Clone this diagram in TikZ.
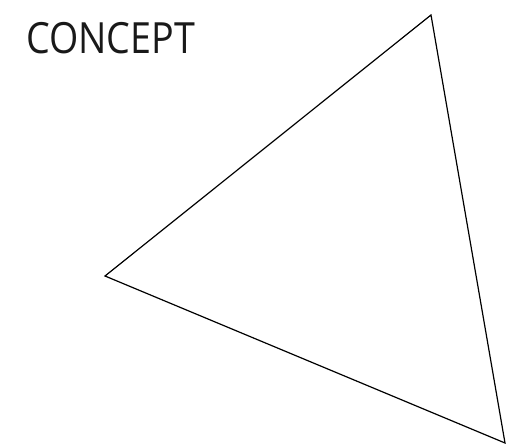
\documentclass[tikz,border=0pt]{standalone}
\usepackage{fontspec}
\setmainfont{Open Sans}
\newfontfamily\titlefont[FakeStretch=0.875]{Open Sans}
\usetikzlibrary{positioning}

\begin{document}
\begin{tikzpicture}[x=1pt, y=1pt,
    label/.style={font=\titlefont\fontsize{43}{43}\selectfont, inner sep=0pt, text=black!90},
    edge/.style={draw=black, line width=1.2pt, line join=miter},
  ]
    \useasboundingbox (0,0) rectangle (519,447);
    % ─── Title ───
    \node[label, anchor=base west] (title) at (26, 393) {CONCEPT};
    % ─── Triangle ───
    \coordinate (apex) at (431, 432);
    \coordinate (left) at (105, 171);
    \coordinate (foot) at (505, 4);
    \draw[edge] (apex) -- (left) -- (foot) -- cycle;
\end{tikzpicture}
\end{document}
